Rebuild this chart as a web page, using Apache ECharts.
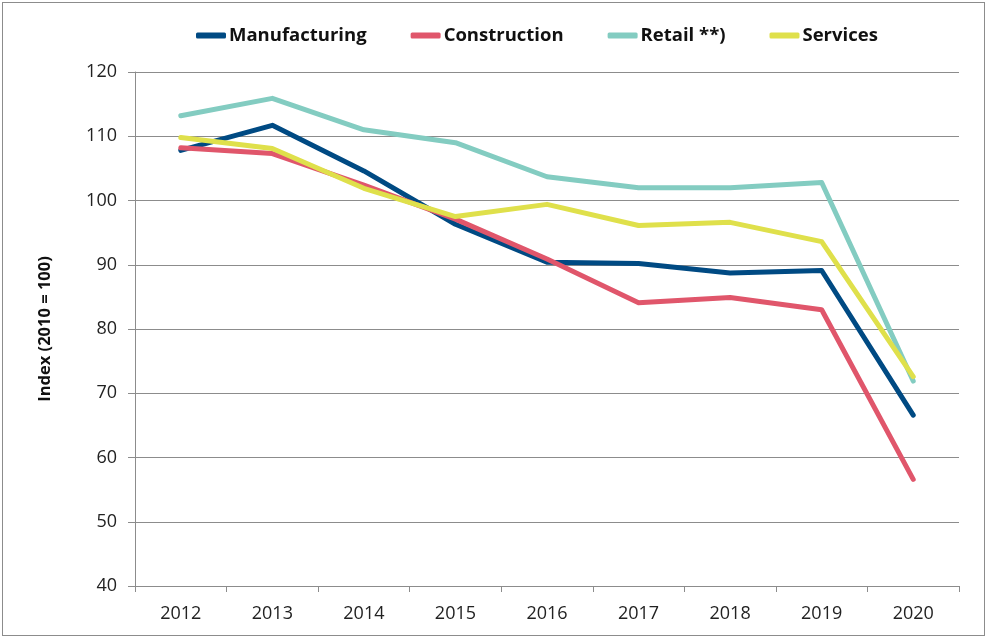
<!DOCTYPE html>
<html>
<head>
<meta charset="utf-8">
<script src="https://cdn.jsdelivr.net/npm/echarts@6/dist/echarts.min.js"></script>
<style>
html,body{margin:0;padding:0;background:#fff;}
#wrap{position:absolute;left:2px;top:2px;width:981px;height:632px;border:1px solid #8c8c8c;}
#chart{position:absolute;left:0;top:0;width:985px;height:636px;}
</style>
</head>
<body>
<div id="wrap"></div>
<div id="chart"></div>
<script>
const categories = ['2012','2013','2014','2015','2016','2017','2018','2019','2020'];
const manufacturing = [107.8, 111.7, 104.6, 96.3, 90.4, 90.2, 88.7, 89.1, 66.6];
const construction = [108.2, 107.3, 102.4, 97.1, 90.9, 84.1, 84.9, 83.0, 56.6];
const retail = [113.2, 115.9, 111.0, 109.0, 103.7, 102.0, 102.0, 102.8, 71.9];
const services = [109.8, 108.1, 101.9, 97.5, 99.4, 96.1, 96.6, 93.6, 72.6];
const seriesNames = ['Manufacturing', 'Construction', 'Retail **)', 'Services'];
const yAxisName = 'Index (2010 = 100)';

const colors = ['#004a83', '#e0566b', '#83ccc1', '#dfe04b'];
const font = '"Open Sans", "Noto Sans", sans-serif';
const data = [manufacturing, construction, retail, services];

const chart = echarts.init(document.getElementById('chart'), null, {renderer: 'canvas'});
chart.setOption({
  animation: false,
  color: colors,
  textStyle: {fontFamily: font},
  legend: {
    top: 21,
    left: 191,
    itemWidth: 30,
    itemHeight: 6,
    itemGap: 44,
    icon: 'roundRect',
    textStyle: {fontFamily: font, fontWeight: 'bold', fontSize: 18.5, color: '#111', padding: [0,0,0,-2]},
    data: seriesNames
  },
  grid: {left: 135, right: 26, top: 72, bottom: 50, containLabel: false},
  xAxis: {
    type: 'category',
    data: categories,
    boundaryGap: true,
    axisLine: {lineStyle: {color: '#8c8c8c', width: 1}},
    axisTick: {show: true, length: 6, lineStyle: {color: '#8c8c8c'}},
    axisLabel: {fontFamily: font, fontSize: 18, color: '#222', margin: 19}
  },
  yAxis: {
    type: 'value',
    min: 40, max: 120, interval: 10,
    name: yAxisName,
    nameLocation: 'middle',
    nameGap: 81,
    nameRotate: 90,
    nameTextStyle: {fontFamily: font, fontWeight: 'bold', fontSize: 16.5, color: '#111'},
    axisLine: {show: true, lineStyle: {color: '#8c8c8c', width: 1}},
    axisTick: {show: true, length: 7, lineStyle: {color: '#8c8c8c'}},
    axisLabel: {fontFamily: font, fontSize: 18, color: '#222', margin: 18},
    splitLine: {lineStyle: {color: '#8c8c8c', width: 1}}
  },
  series: seriesNames.map((n, i) => ({
    name: n,
    type: 'line',
    data: data[i],
    symbol: 'none',
    smooth: false,
    lineStyle: {width: 5, color: colors[i], cap: 'round', join: 'round'},
    itemStyle: {color: colors[i]}
  }))
});
</script>
</body>
</html>
